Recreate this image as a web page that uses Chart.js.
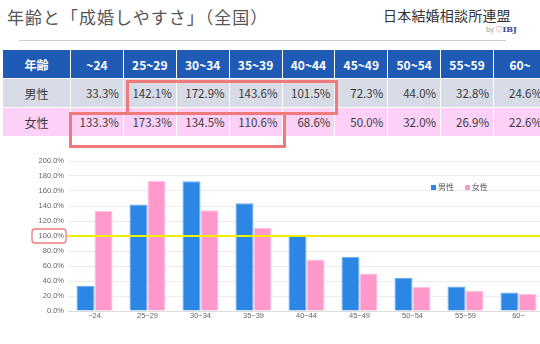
<!DOCTYPE html>
<html>
<head>
<meta charset="utf-8">
<script src="https://cdn.jsdelivr.net/npm/chart.js@4"></script>
<style>
    body { margin: 0; width: 540px; height: 344px; overflow: hidden; background: #fff; font-family: "Noto Sans CJK JP", "Noto Sans", sans-serif; position: relative; }
    #titulo { position: absolute; left: 7px; top: 4px; font-size: 17px; color: #555; letter-spacing: 1px; }
    #logo { position: absolute; left: 383px; top: 5px; font-size: 14px; color: #333; letter-spacing: 0.2px; }
    #by { position: absolute; left: 486px; top: 24px; font-size: 7px; color: #999; }
    #by b { color: #3a4a9a; font-family: "DejaVu Serif", serif; font-size: 8px; }
    #by i { color: #e8507a; font-style: normal; }
    #linha { position: absolute; left: 19px; top: 40px; width: 487px; height: 1px; background: #d0d0d0; }
    table { position: absolute; left: 2px; top: 49px; border-collapse: collapse; table-layout: fixed; width: 545px; }
    td, th { border: 1.5px solid #fff; height: 28px; padding: 0 4px 0 0; font-size: 11.5px; color: #3a3a3a; text-align: right; font-weight: normal; }
    th { background: #1f5bb5; color: #fff; font-weight: bold; text-align: center; padding: 0; font-size: 12px; }
    .m td { background: #d6dbe6; }
    .f td { background: #fdd0f7; }
    td.rot { text-align: center; padding: 0; font-size: 12px; }
    .caixa { position: absolute; border: 3px solid #f07a7a; box-sizing: border-box; }
    #areaGrafico { position: absolute; left: 0; top: 150px; width: 560px; height: 194px; }
    #legenda { position: absolute; left: 431px; top: 181px; font-size: 8px; color: #555; }
    #legenda span { display: inline-block; width: 5px; height: 5px; margin-right: 2px; }
</style>
</head>
<body>
<div id="titulo">年齢と「成婚しやすさ」（全国）</div>
<div id="logo">日本結婚相談所連盟</div>
<div id="by">by <i>♡</i><b>IBJ</b></div>
<div id="linha"></div>
<table id="tabela"></table>
<div class="caixa" style="left:126px; top:80px; width:212px; height:35px;"></div>
<div class="caixa" style="left:69px; top:112px; width:217px; height:36px;"></div>
<div id="areaGrafico"><canvas id="grafico"></canvas></div>
<div id="legenda"><span style="background:#2b87e3"></span>男性&nbsp;&nbsp;&nbsp;&nbsp;&nbsp;&nbsp;<span style="background:#ff99cc"></span>女性</div>

<script>
const idades = ["~24", "25~29", "30~34", "35~39", "40~44", "45~49", "50~54", "55~59", "60~"];
const homens = [33.3, 142.1, 172.9, 143.6, 101.5, 72.3, 44.0, 32.8, 24.6];
const mulheres = [133.3, 173.3, 134.5, 110.6, 68.6, 50.0, 32.0, 26.9, 22.6];
const ticksY = [0, 20, 40, 60, 80, 100, 120, 140, 160, 180, 200];

function montarTabela() {
    const tabela = document.getElementById("tabela");
    let html = '<colgroup><col style="width:68px">' + idades.map(() => '<col>').join("") + '</colgroup>';
    html += '<tr><th>年齢</th>' + idades.map(i => '<th>' + i + '</th>').join("") + '</tr>';
    html += '<tr class="m"><td class="rot">男性</td>' + homens.map(v => '<td>' + v.toFixed(1) + '%</td>').join("") + '</tr>';
    html += '<tr class="f"><td class="rot">女性</td>' + mulheres.map(v => '<td>' + v.toFixed(1) + '%</td>').join("") + '</tr>';
    tabela.innerHTML = html;
}

montarTabela();

// linha amarela em 100% e caixa vermelha no rótulo
const linha100 = {
    id: "linha100",
    afterDatasetsDraw(chart) {
        const ctx = chart.ctx;
        const y = chart.scales.y.getPixelForValue(100);
        ctx.save();
        ctx.strokeStyle = "#f2ee00";
        ctx.lineWidth = 2;
        ctx.beginPath();
        ctx.moveTo(chart.chartArea.left - 1, y);
        ctx.lineTo(chart.chartArea.right, y);
        ctx.stroke();

        ctx.strokeStyle = "#f07a7a";
        ctx.lineWidth = 1.3;
        ctx.beginPath();
        ctx.roundRect(32, y - 7, 34, 14, 3);
        ctx.stroke();
        ctx.restore();
    }
};

new Chart(document.getElementById("grafico"), {
    type: "bar",
    data: {
        labels: idades,
        datasets: [{
            label: "男性",
            data: homens,
            backgroundColor: "#2b87e3",
            borderColor: "#6aaef0",
            borderWidth: 1
        }, {
            label: "女性",
            data: mulheres,
            backgroundColor: "#ff99cc",
            borderColor: "#ffc4e2",
            borderWidth: 1
        }]
    },
    options: {
        responsive: true,
        maintainAspectRatio: false,
        animation: false,
        layout: { padding: { top: 11, right: 15, left: 0, bottom: 0 } },
        datasets: { bar: { categoryPercentage: 0.68, barPercentage: 1.0 } },
        plugins: {
            legend: { display: false },
            tooltip: { enabled: false }
        },
        scales: {
            x: {
                grid: { display: false, drawTicks: false },
                border: { color: "#dddddd" },
                ticks: { color: "#666", font: { size: 7.5 }, padding: 0, maxRotation: 0 },
                afterFit(scale) { scale.height = 33; }
            },
            y: {
                min: 0,
                max: 200,
                afterBuildTicks(scale) { scale.ticks = ticksY.map(v => ({ value: v })); },
                grid: { color: "#ececec", drawTicks: false },
                border: { display: false },
                ticks: {
                    color: "#666",
                    font: { size: 7.5 },
                    padding: 4,
                    callback: v => v.toFixed(1) + "%"
                },
                afterFit(scale) { scale.width = 68; }
            }
        }
    },
    plugins: [linha100]
});
</script>
</body>
</html>
